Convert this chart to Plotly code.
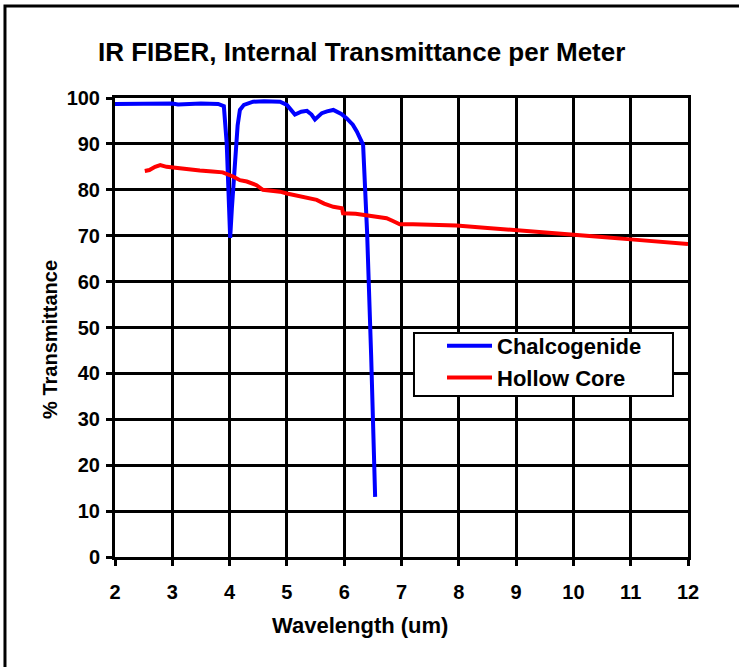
import plotly.graph_objects as go

# Chalcogenide fiber transmittance
chalc_x = [2.0, 2.5, 3.0, 3.1, 3.5, 3.8, 3.90, 3.95, 3.98, 4.01, 4.04, 4.07, 4.10, 4.14, 4.18, 4.25,
           4.41, 4.6, 4.88, 5.0, 5.14, 5.25, 5.35, 5.43, 5.49, 5.55, 5.61, 5.7, 5.81, 5.95,
           6.04, 6.15, 6.22, 6.33, 6.40, 6.47, 6.54]
chalc_y = [98.7, 98.8, 98.8, 98.6, 98.8, 98.7, 98.2, 90.0, 78.0, 69.5, 76.0, 82.0, 89.0, 94.0, 97.4, 98.5,
           99.2, 99.3, 99.2, 98.5, 96.4, 97.0, 97.2, 96.4, 95.3, 96.0, 96.7, 97.1, 97.4, 96.5,
           95.6, 94.2, 92.7, 89.8, 70.6, 44.0, 13.1]

# Hollow core fiber transmittance
hollow_x = [2.52, 2.6, 2.7, 2.79, 2.9, 3.02, 3.2, 3.48, 3.7, 3.88, 4.06, 4.18, 4.3, 4.47, 4.58,
            4.7, 4.88, 5.0, 5.23, 5.35, 5.52, 5.65, 5.81, 5.96, 5.98, 6.2, 6.39, 6.55, 6.74,
            6.85, 6.97, 7.2, 7.5, 7.96, 8.5, 8.95, 9.5, 10.0, 10.5, 11.0, 11.5, 12.0]
hollow_y = [84.1, 84.3, 85.0, 85.4, 85.0, 84.8, 84.5, 84.2, 84.0, 83.8, 82.9, 82.1, 81.8, 81.0, 80.0,
            79.9, 79.6, 79.2, 78.5, 78.2, 77.8, 77.0, 76.3, 76.0, 74.9, 74.8, 74.5, 74.2, 73.8,
            73.2, 72.5, 72.5, 72.4, 72.2, 71.7, 71.2, 70.7, 70.2, 69.7, 69.2, 68.7, 68.2]

x_ticks = [2, 3, 4, 5, 6, 7, 8, 9, 10, 11, 12]
y_ticks = [0, 10, 20, 30, 40, 50, 60, 70, 80, 90, 100]

FONT = "Liberation Sans, Arial, sans-serif"

fig = go.Figure()
fig.add_trace(go.Scatter(x=chalc_x, y=chalc_y, mode="lines", name="Chalcogenide",
                         line=dict(color="#0000FF", width=4)))
fig.add_trace(go.Scatter(x=hollow_x, y=hollow_y, mode="lines", name="Hollow Core",
                         line=dict(color="#FF0000", width=4)))

axis_common = dict(
    showline=True, linecolor="black", linewidth=3, mirror=True,
    showgrid=True, gridcolor="black", gridwidth=3,
    ticks="outside", ticklen=6, tickwidth=3, tickcolor="black",
    zeroline=False,
    tickfont=dict(family=FONT, size=20, color="black", weight="bold"),
)

fig.update_xaxes(range=[2, 12], tickvals=x_ticks, ticklabelstandoff=9, **axis_common)
fig.update_yaxes(range=[0, 100], tickvals=y_ticks, ticklabelstandoff=2, **axis_common)

fig.update_layout(
    width=739, height=667, autosize=False,
    margin=dict(l=115, r=51, t=98, b=110),
    paper_bgcolor="white", plot_bgcolor="white",
    showlegend=True,
    legend=dict(x=0.5707, y=0.5054, xanchor="left", yanchor="top",
                bgcolor="rgba(0,0,0,0)", borderwidth=0, itemwidth=45,
                font=dict(family=FONT, size=22, color="black", weight="bold")),
    shapes=[
        dict(type="rect", xref="paper", yref="paper", x0=-0.192, x1=1.095, y0=-0.3, y1=1.2004,
             line=dict(color="black", width=3), fillcolor="rgba(0,0,0,0)", layer="below"),
        dict(type="rect", xref="paper", yref="paper", x0=0.5218, x1=0.9738, y0=0.3508, y1=0.488,
             line=dict(color="black", width=2), fillcolor="white", layer="above"),
    ],
    annotations=[
        dict(text="IR FIBER, Internal Transmittance per Meter", xref="paper", yref="paper",
             x=0.431, y=1.100, xanchor="center", yanchor="middle", showarrow=False,
             font=dict(family=FONT, size=26, color="black", weight="bold")),
        dict(text="Wavelength (um)", xref="paper", yref="paper",
             x=0.4276, y=-0.150, xanchor="center", yanchor="middle", showarrow=False,
             font=dict(family=FONT, size=22, color="black", weight="bold")),
        dict(text="% Transmittance", xref="paper", yref="paper", textangle=-90,
             x=-0.1134, y=0.473, xanchor="center", yanchor="middle", showarrow=False,
             font=dict(family=FONT, size=20, color="black", weight="bold")),
    ],
)

fig.write_html("out.html", config={"displayModeBar": False},
               post_script="document.body.style.margin='0';")
